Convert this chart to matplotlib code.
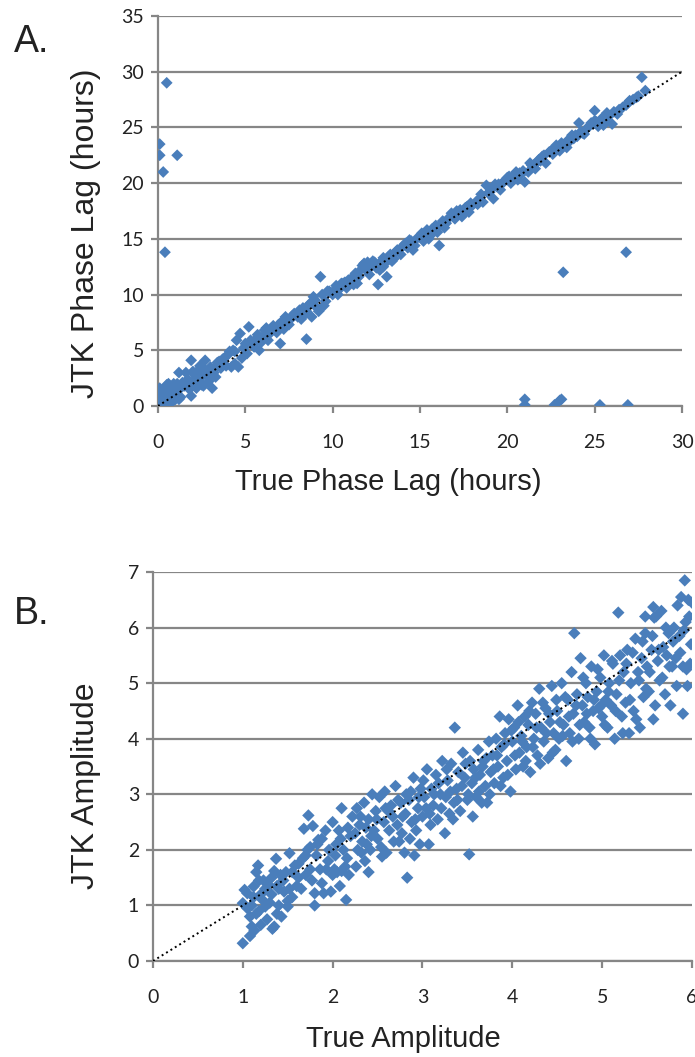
import matplotlib
matplotlib.use("Agg")
import matplotlib.pyplot as plt
from matplotlib import font_manager
import numpy as np

# ---- panel A: phase lag (hours) ----
true_phase = [
    0.0, 0.1, 0.1, 0.2, 0.3, 0.4, 0.5, 0.6, 0.7, 0.8, 0.9, 1.0, 1.1, 1.2, 1.2, 1.3,
    1.5, 1.6, 1.8, 1.9, 1.9, 2.0, 2.1, 2.2, 2.3, 2.4, 2.5, 2.6, 2.7, 2.8, 2.9, 3.0,
    3.1, 3.3, 3.5, 3.7, 3.9, 4.0, 4.2, 4.3, 4.5, 4.6, 4.7, 4.9, 5.1, 5.2, 5.4, 5.6,
    5.8, 6.0, 6.2, 6.4, 6.6, 6.8, 7.0, 7.1, 7.3, 7.6, 7.8, 8.0, 8.3, 8.5, 8.7, 8.8,
    9.0, 9.2, 9.3, 9.4, 9.6, 9.8, 10.0, 10.2, 10.4, 10.6, 10.8, 11.0, 11.2, 11.5, 11.7, 11.9,
    12.1, 12.3, 12.5, 12.6, 12.8, 13.0, 13.1, 13.3, 13.5, 13.7, 13.9, 14.1, 14.3, 14.5, 14.7, 15.0,
    15.2, 15.4, 15.6, 15.8, 16.0, 16.1, 16.2, 16.4, 16.6, 16.8, 17.0, 17.2, 17.4, 17.6, 17.8, 18.0,
    18.2, 18.4, 18.6, 18.8, 19.0, 19.2, 19.4, 19.6, 19.8, 20.0, 20.2, 20.4, 20.6, 20.8, 21.0, 21.2,
    21.4, 21.6, 21.8, 22.0, 22.2, 22.4, 22.6, 22.8, 23.0, 23.2, 23.4, 23.6, 23.8, 24.0, 24.2, 24.4,
    24.6, 24.8, 25.0, 25.2, 25.4, 25.6, 25.8, 26.0, 26.3, 26.6, 26.9, 27.2, 27.5, 27.9,
    0.3, 0.8, 1.4, 2.2, 2.5, 3.2, 3.8, 4.4, 5.0, 5.5, 6.1, 6.7, 7.4, 8.1, 8.9, 9.5,
    10.1, 10.7, 11.3, 11.8, 12.4, 12.9, 13.4, 14.0, 14.6, 15.3, 15.9, 16.5, 17.1, 17.7, 18.3, 18.9,
    19.5, 20.1, 20.7, 21.3, 21.9, 22.5, 23.1, 23.7, 24.3, 24.9, 25.5, 26.1,
    0.2, 0.5, 0.7, 1.0, 1.3, 1.7, 2.0, 2.3, 2.6, 3.0, 3.4, 3.6, 4.1, 4.4, 4.8, 5.3,
    5.7, 6.3, 6.9, 7.2, 7.7, 8.2, 8.6, 9.1, 9.7, 10.3, 10.9, 11.4, 11.6, 12.0, 12.2, 12.7,
    13.2, 13.6, 14.2, 14.8, 15.1, 15.7, 16.3, 16.9, 17.3, 17.9, 18.5, 19.1, 19.7, 20.3, 20.9, 21.5,
    22.1, 22.7, 23.3, 23.9, 24.5, 25.1, 25.7, 26.4, 26.8, 27.0, 27.4, 24.1, 23.5, 21.7, 20.5, 19.3,
    17.5, 15.5, 14.4, 12.9, 11.1, 10.5, 8.4, 7.5, 6.5, 5.9, 3.2, 2.4, 1.8, 0.9, 0.4,
    # outliers
    0.1, 0.1, 0.3, 1.1, 0.5, 0.4, 23.2, 26.8, 21.0, 21.0, 22.7, 23.1, 23.0, 25.3, 26.9, 8.5, 27.7, 25.0,
]
jtk_phase = [
    0.3, 1.0, 1.6, 0.5, 0.0, 1.2, 0.8, 2.0, 1.5, 0.5, 2.0, 1.2, 2.0, 0.6, 3.0, 0.8,
    1.8, 3.0, 1.5, 4.1, 0.9, 2.2, 2.8, 1.6, 3.2, 2.0, 2.6, 1.8, 4.1, 3.0, 2.2, 3.5,
    1.6, 2.6, 4.0, 4.2, 3.6, 4.6, 3.5, 5.0, 5.9, 3.5, 6.5, 5.2, 4.7, 7.1, 5.5, 6.0,
    5.0, 6.2, 7.0, 6.5, 7.2, 6.6, 5.6, 7.6, 8.0, 7.8, 8.3, 8.0, 8.8, 8.5, 9.2, 8.0,
    9.5, 8.5, 11.6, 10.0, 9.4, 10.3, 10.0, 10.8, 10.5, 11.0, 10.6, 11.2, 10.9, 11.6, 12.6, 12.2,
    11.8, 13.0, 12.4, 10.9, 13.0, 12.8, 11.6, 13.6, 13.2, 14.0, 13.6, 14.5, 14.2, 14.8, 14.4, 15.2,
    14.8, 15.8, 15.3, 16.0, 15.6, 14.4, 16.3, 16.0, 16.8, 17.3, 16.8, 17.4, 17.0, 17.8, 17.4, 18.0,
    18.3, 18.6, 18.3, 19.8, 19.2, 18.6, 19.7, 19.4, 20.1, 20.5, 20.0, 20.7, 20.3, 20.8, 20.1, 21.0,
    21.6, 21.3, 22.1, 22.4, 21.8, 22.8, 22.6, 23.4, 22.9, 23.4, 23.2, 23.8, 24.0, 24.2, 24.6, 24.4,
    25.0, 25.4, 25.6, 25.1, 25.8, 25.5, 26.0, 25.3, 26.2, 26.8, 27.2, 27.5, 27.8, 28.3,
    0.9, 1.3, 2.1, 2.7, 1.9, 3.0, 4.3, 4.9, 5.6, 5.3, 6.8, 7.0, 7.5, 8.6, 9.8, 9.0,
    10.4, 11.1, 11.9, 12.8, 12.9, 12.5, 13.0, 14.3, 14.0, 15.5, 16.2, 16.4, 17.5, 17.9, 18.1, 19.1,
    19.9, 20.6, 20.9, 21.8, 22.0, 22.9, 23.6, 24.3, 24.5, 25.3, 25.2, 26.4,
    0.9, 1.9, 0.2, 0.6, 1.6, 2.4, 3.1, 2.4, 3.4, 2.5, 3.9, 3.4, 4.9, 3.8, 4.3, 5.9,
    6.4, 5.9, 7.3, 6.9, 8.1, 7.8, 9.0, 8.8, 10.3, 10.0, 11.3, 11.0, 12.2, 12.9, 12.5, 12.2,
    13.4, 13.8, 14.6, 15.0, 15.5, 15.9, 16.6, 17.0, 17.6, 18.2, 19.0, 19.5, 20.0, 20.4, 21.1, 21.6,
    22.5, 23.0, 23.5, 24.3, 24.8, 25.5, 26.3, 26.6, 27.0, 27.4, 27.7, 25.4, 23.9, 21.9, 21.0, 19.9,
    17.3, 15.0, 14.9, 13.3, 11.5, 11.0, 8.2, 7.3, 7.0, 5.7, 3.3, 3.6, 2.0, 0.9, 0.4,
    23.5, 22.5, 21.0, 22.5, 29.0, 13.8, 12.0, 13.8, 0.6, 0.1, 0.1, 0.6, 0.5, 0.1, 0.1, 6.0, 29.5, 26.5,
]

# ---- panel B: amplitude ----
true_amp = [
    1.00, 1.00, 1.02, 1.05, 1.08, 1.08, 1.10, 1.10, 1.12, 1.13, 1.15, 1.15, 1.17, 1.18, 1.20, 1.20,
    1.22, 1.23, 1.25, 1.25, 1.28, 1.30, 1.32, 1.33, 1.35, 1.35, 1.37, 1.38, 1.38, 1.40, 1.42, 1.43,
    1.45, 1.48, 1.50, 1.50, 1.52, 1.52, 1.55, 1.58,
    1.60, 1.62, 1.65, 1.67, 1.68, 1.70, 1.72, 1.73, 1.75, 1.75, 1.78, 1.80, 1.80, 1.82, 1.84, 1.86,
    1.88, 1.88, 1.90, 1.92, 1.95, 1.96, 1.98, 2.00, 2.00, 2.02, 2.04, 2.05, 2.07, 2.08, 2.10, 2.10,
    2.12, 2.14, 2.15, 2.17, 2.18,
    2.22, 2.25, 2.27, 2.28, 2.30, 2.32, 2.33, 2.35, 2.36, 2.38, 2.40, 2.40, 2.42, 2.44, 2.46, 2.48,
    2.50, 2.52, 2.55, 2.57, 2.58, 2.60, 2.62, 2.65, 2.68, 2.70, 2.72, 2.74, 2.76, 2.78, 2.80, 2.82,
    2.83, 2.85, 2.86, 2.88, 2.90, 2.91, 2.93, 2.95, 2.97, 2.98,
    3.00, 3.02, 3.05, 3.07, 3.08, 3.10, 3.12, 3.15, 3.17, 3.20, 3.22, 3.25, 3.26, 3.28, 3.30, 3.32,
    3.35, 3.36, 3.38, 3.40, 3.42, 3.45, 3.47, 3.50, 3.52, 3.53, 3.55, 3.57, 3.60, 3.62, 3.64, 3.66,
    3.68, 3.70, 3.72, 3.74, 3.76, 3.78,
    3.80, 3.82, 3.84, 3.86, 3.88, 3.90, 3.92, 3.94, 3.96, 3.98, 4.00, 4.02, 4.04, 4.06, 4.08, 4.10,
    4.12, 4.14, 4.16, 4.18, 4.20, 4.22, 4.24, 4.26, 4.28, 4.30, 4.32, 4.35, 4.37, 4.40, 4.42, 4.44,
    4.46, 4.48, 4.50, 4.52, 4.55, 4.57, 4.60,
    4.62, 4.64, 4.66, 4.68, 4.69, 4.72, 4.74, 4.76, 4.78, 4.80, 4.82, 4.84, 4.86, 4.88, 4.90, 4.92,
    4.94, 4.96, 4.98, 5.00, 5.02, 5.04, 5.06, 5.08, 5.10, 5.12, 5.14, 5.16, 5.18, 5.20, 5.22, 5.24,
    5.26, 5.28,
    5.30, 5.32, 5.35, 5.37, 5.40, 5.42, 5.44, 5.46, 5.48, 5.50, 5.52, 5.55, 5.57, 5.60, 5.62, 5.64,
    5.66, 5.68, 5.70, 5.72, 5.74, 5.76, 5.78, 5.80, 5.82, 5.84, 5.86, 5.88, 5.90, 5.90, 5.92, 5.93,
    5.95, 5.96, 5.98, 6.00,
    1.05, 1.12, 1.18, 1.27, 1.32, 1.40, 1.46, 1.55, 1.62, 1.70, 1.77, 1.83, 1.93, 2.03, 2.09, 2.16,
    2.20, 2.26, 2.31, 2.37, 2.43, 2.49, 2.54, 2.59, 2.63, 2.67, 2.73, 2.77, 2.81, 2.87, 2.92, 2.96,
    3.01, 3.04, 3.09, 3.13, 3.18, 3.21, 3.27, 3.31, 3.34, 3.39, 3.44, 3.48, 3.51, 3.56, 3.59, 3.63,
    3.67, 3.71, 3.75, 3.79, 3.83, 3.87, 3.91, 3.95, 3.99, 4.03, 4.07, 4.11, 4.15, 4.19, 4.23, 4.27,
    4.31, 4.34, 4.38, 4.41, 4.45, 4.49, 4.53, 4.56, 4.59, 4.63, 4.67, 4.71, 4.75, 4.79, 4.83, 4.87,
    4.91, 4.95, 4.99, 5.03, 5.07, 5.11, 5.15, 5.19, 5.23, 5.27, 5.31, 5.34, 5.38, 5.41, 5.45, 5.49,
    5.53, 5.56, 5.59, 5.63, 5.67, 5.71, 5.75, 5.79, 5.83, 5.87, 5.91, 5.94, 5.97, 5.99,
    5.48, 5.57, 5.58,
]
jtk_amp = [
    0.32, 1.04, 1.28, 1.22, 0.45, 0.80, 0.62, 1.00, 1.34, 0.55, 0.85, 1.60, 1.72, 0.90, 1.20, 0.65,
    1.10, 1.45, 1.30, 0.98, 1.38, 1.05, 1.50, 0.58, 0.62, 1.62, 1.84, 0.85, 1.35, 1.00, 1.55, 0.80,
    1.45, 1.60, 0.98, 1.08, 1.30, 1.94, 1.60, 1.72,
    1.35, 1.75, 1.30, 1.85, 2.38, 1.55, 2.00, 2.62, 1.65, 2.05, 2.43, 1.00, 1.22, 1.90, 2.18, 1.65,
    1.40, 2.20, 1.22, 2.35, 1.80, 2.00, 1.25, 1.55, 2.50, 1.65, 2.10, 1.60, 2.35, 1.35, 1.62, 2.75,
    2.00, 1.70, 1.10, 2.40, 1.55,
    2.60, 2.30, 2.75, 2.00, 2.45, 1.95, 2.15, 2.85, 1.80, 2.10, 1.60, 2.55, 2.00, 3.00, 2.35, 2.70,
    2.20, 2.95, 1.88, 2.50, 3.05, 1.95, 2.70, 2.80, 2.15, 3.15, 2.45, 2.15, 2.85, 2.60, 1.95, 3.00,
    1.50, 2.90, 2.20, 2.50, 3.30, 1.90, 2.35, 2.75, 2.10, 3.10,
    2.60, 2.95, 3.45, 2.10, 2.65, 3.10, 2.80, 3.35, 2.55, 3.00, 3.60, 2.30, 2.95, 3.25, 2.65, 3.55,
    2.85, 4.20, 3.10, 3.40, 2.70, 3.75, 3.30, 2.90, 1.92, 3.60, 3.20, 3.45, 2.95, 3.80, 3.35, 2.85,
    3.60, 3.15, 2.85, 3.95, 3.40, 3.70,
    3.20, 4.00, 3.50, 4.40, 3.85, 3.30, 4.10, 3.60, 4.35, 3.05, 3.95, 4.20, 3.45, 4.60, 3.75, 4.05,
    3.50, 4.40, 3.85, 4.25, 3.40, 4.65, 4.00, 4.45, 3.70, 4.90, 4.20, 3.95, 4.55, 3.65, 4.30, 4.95,
    4.10, 3.80, 4.50, 4.00, 5.00, 4.25, 3.60,
    4.70, 4.10, 5.20, 4.45, 5.90, 4.80, 4.00, 5.45, 4.60, 4.30, 5.00, 4.75, 4.20, 5.30, 4.50, 3.90,
    4.85, 4.55, 5.10, 4.40, 5.50, 4.70, 4.20, 5.00, 4.60, 5.35, 4.00, 4.80, 6.27, 5.50, 4.40, 5.20,
    4.65, 5.60,
    4.10, 5.00, 4.50, 5.80, 5.20, 4.20, 5.45, 4.75, 5.90, 5.30, 4.85, 5.60, 4.35, 6.20, 5.40, 5.05,
    6.30, 5.65, 4.80, 5.50, 5.90, 4.60, 5.30, 6.00, 5.45, 6.40, 5.85, 6.55, 5.30, 4.45, 6.85, 6.10,
    4.95, 6.50, 5.35, 6.45,
    0.95, 1.15, 1.45, 0.75, 1.20, 1.30, 1.25, 1.15, 1.50, 1.90, 1.45, 2.10, 1.65, 1.90, 2.20, 1.85,
    2.25, 1.70, 2.60, 2.40, 2.25, 2.55, 2.05, 2.75, 2.35, 2.60, 2.90, 2.30, 2.65, 3.05, 2.55, 2.95,
    3.25, 2.75, 2.45, 3.00, 3.20, 2.75, 3.45, 3.05, 2.55, 2.90, 3.15, 3.55, 3.00, 2.60, 3.30, 3.05,
    3.50, 3.65, 3.00, 3.45, 3.70, 3.15, 3.90, 3.35, 4.15, 3.70, 4.30, 3.95, 3.60, 4.50, 3.85, 4.20,
    3.55, 4.65, 4.10, 4.45, 3.75, 4.70, 4.30, 4.05, 4.75, 4.40, 3.95, 4.60, 4.25, 5.10, 4.45, 4.00,
    4.70, 5.25, 4.60, 4.25, 4.85, 5.40, 4.50, 5.05, 4.10, 5.35, 4.70, 5.55, 4.35, 5.05, 5.75, 4.90,
    5.20, 5.85, 4.60, 5.60, 5.10, 6.00, 5.30, 5.75, 4.95, 5.55, 5.95, 5.25, 6.20, 5.70,
    6.20, 6.37, 6.18,
]

# dotted y = x reference lines
diag_a = [0, 30]
diag_b = [0, 6]

blue = '#4A7EBB'
grid_gray = '#868686'

plt.rcParams['font.family'] = ['Liberation Sans', 'DejaVu Sans']
names = {f.name for f in font_manager.fontManager.ttflist}
tick_font = 'Liberation Sans Narrow' if 'Liberation Sans Narrow' in names else 'Lato'

fig = plt.figure(figsize=(6.95, 10.57), dpi=100)
ax1 = fig.add_axes([0.2273, 0.6159, 0.754, 0.369])
ax2 = fig.add_axes([0.2201, 0.0908, 0.7755, 0.368])


def style(ax, xmax, ymax, ystep, xstep):
    ax.set_xlim(0, xmax)
    ax.set_ylim(0, ymax)
    ax.set_yticks(np.arange(0, ymax + 0.01, ystep))
    ax.set_xticks(np.arange(0, xmax + 0.01, xstep))
    ax.grid(axis='y', color=grid_gray, lw=1.6, zorder=0)
    ax.set_axisbelow(True)
    for s in ['top', 'right']:
        ax.spines[s].set_visible(False)
    for s in ['left', 'bottom']:
        ax.spines[s].set_color(grid_gray)
        ax.spines[s].set_linewidth(1.6)
    ax.tick_params(axis='both', direction='out', length=5, width=1.6, color=grid_gray,
                   labelsize=14, labelcolor='#222222')
    ax.tick_params(axis='x', pad=15)
    ax.tick_params(axis='y', pad=5)
    for lab in ax.get_xticklabels() + ax.get_yticklabels():
        lab.set_family(tick_font)


ax1.scatter(true_phase, jtk_phase, marker='D', s=36, color=blue, edgecolors='none', zorder=3)
ax1.plot(diag_a, diag_a, color='black', ls=':', lw=1.4, zorder=4)
style(ax1, 30, 35, 5, 5)
ax1.set_xlabel('True Phase Lag (hours)', fontsize=21, color='#222222')
ax1.set_ylabel('JTK Phase Lag (hours)', fontsize=23, color='#222222')
ax1.xaxis.set_label_coords(0.44, -0.16)
ax1.yaxis.set_label_coords(-0.108, 0.444)

ax2.scatter(true_amp, jtk_amp, marker='D', s=40, color=blue, edgecolors='none', zorder=3)
ax2.plot(diag_b, diag_b, color='black', ls=':', lw=1.4, zorder=4)
style(ax2, 6, 7, 1, 1)
ax2.set_xlabel('True Amplitude', fontsize=21, color='#222222')
ax2.set_ylabel('JTK Amplitude', fontsize=23, color='#222222')
ax2.xaxis.set_label_coords(0.464, -0.165)
ax2.yaxis.set_label_coords(-0.096, 0.45)

fig.text(0.02, 0.951, 'A.', fontsize=27, color='#222222')
fig.text(0.02, 0.41, 'B.', fontsize=27, color='#222222')

fig.savefig('out.png', dpi=100)
